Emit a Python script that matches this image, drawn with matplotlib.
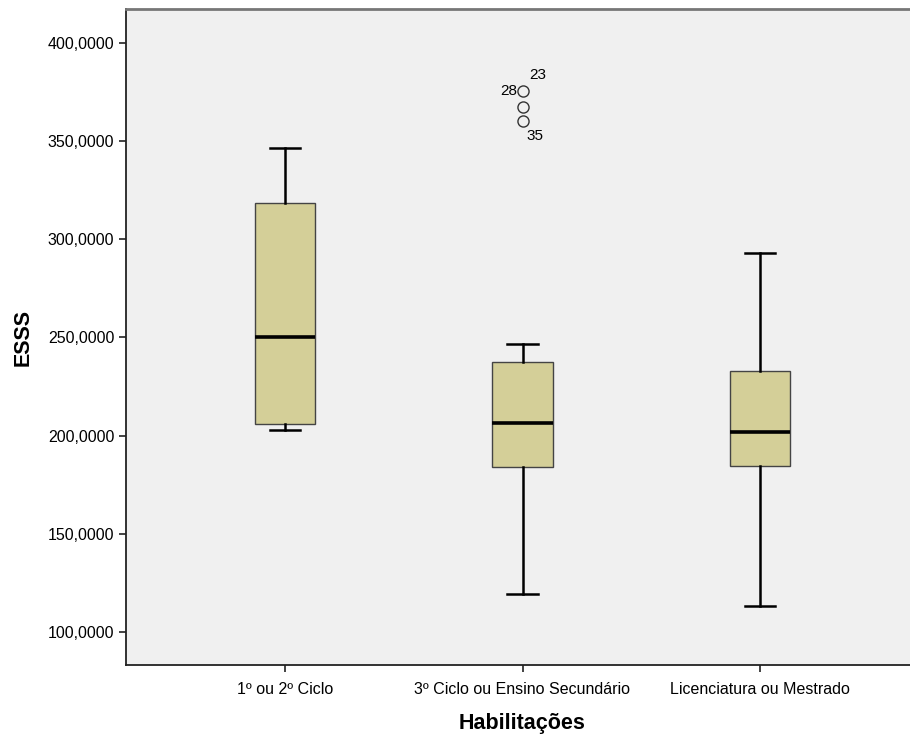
import matplotlib
matplotlib.use("Agg")
import matplotlib.pyplot as plt

# --- values ---
categories = ["1º ou 2º Ciclo", "3º Ciclo ou Ensino Secundário", "Licenciatura ou Mestrado"]
whisker_low = [203.0, 119.5, 113.0]
q1 = [206.0, 184.0, 184.5]
medians = [250.0, 206.5, 202.0]
q3 = [318.5, 237.5, 233.0]
whisker_high = [346.5, 246.5, 293.0]
outliers = [[], [375.5, 367.5, 360.5], []]
outlier_ids = ["23", "28", "35"]
yticks = [100, 150, 200, 250, 300, 350, 400]

BOX_COLOR = "#d4cf98"
BG = "#f0f0f0"

plt.rcParams["font.family"] = ["Liberation Sans", "DejaVu Sans"]

fig = plt.figure(figsize=(9.1, 7.38), dpi=100)
ax = fig.add_axes([126 / 910, 73 / 738, 793 / 910, 656 / 738])
ax.set_facecolor(BG)

stats = []
for i in range(len(categories)):
    stats.append({
        "whislo": whisker_low[i], "q1": q1[i], "med": medians[i],
        "q3": q3[i], "whishi": whisker_high[i], "fliers": outliers[i],
    })

positions = [1, 2, 3]
ax.bxp(stats, positions=positions, widths=0.253, patch_artist=True,
       boxprops=dict(facecolor=BOX_COLOR, edgecolor="#444444", linewidth=1.0),
       medianprops=dict(color="black", linewidth=2.6),
       whiskerprops=dict(color="black", linewidth=1.8),
       capprops=dict(color="black", linewidth=1.8),
       capwidths=0.127,
       flierprops=dict(marker="o", markerfacecolor="none", markeredgecolor="#333333",
                       markersize=8, markeredgewidth=1.0))

# case labels next to the outliers
ax.text(2.027, outliers[1][0] + 8, outlier_ids[0], fontsize=11, ha="left", va="center")
ax.text(1.979, outliers[1][0], outlier_ids[1], fontsize=11, ha="right", va="center")
ax.text(2.015, outliers[1][2] - 8, outlier_ids[2], fontsize=11, ha="left", va="center")

ax.set_xlim(0.33, 3.67)
ax.set_ylim(83.2, 417.3)
ax.set_xticks(positions)
ax.set_xticklabels(categories, fontsize=11.5)
ax.set_yticks(yticks)
ax.set_yticklabels([f"{v:.4f}".replace(".", ",") for v in yticks], fontsize=11.5)
ax.tick_params(direction="out", length=5, width=1.2, color="#222222")
ax.tick_params(axis="x", pad=7)

ax.spines["left"].set_color("#222222")
ax.spines["bottom"].set_color("#222222")
ax.spines["left"].set_linewidth(1.3)
ax.spines["bottom"].set_linewidth(1.3)
ax.spines["top"].set_color("#777777")
ax.spines["top"].set_linewidth(2)
ax.spines["right"].set_visible(False)

ax.set_xlabel("Habilitações", fontsize=15.5, fontweight="bold", labelpad=12)
ax.set_ylabel("ESSS", fontsize=15.5, fontweight="bold", labelpad=10)

fig.savefig("out.png", dpi=100, facecolor="white")
